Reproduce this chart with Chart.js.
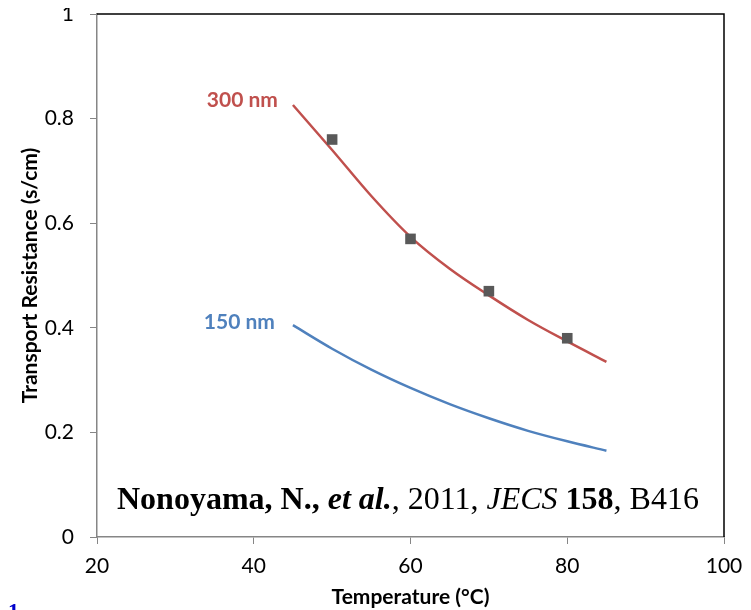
<!DOCTYPE html>
<html>
<head>
<meta charset="utf-8">
<script src="https://cdn.jsdelivr.net/npm/chart.js@4.4.1/dist/chart.umd.min.js"></script>
<style>
  html, body { margin: 0; padding: 0; background: #fff; }
  canvas { display: block; }
</style>
</head>
<body>
<canvas id="chart" width="751" height="610"></canvas>
<script>
// fitted curves
const curveTemps = [45, 50, 55, 60, 65, 70, 75, 80, 85];
const res300 = [0.826, 0.740, 0.652, 0.574, 0.513, 0.462, 0.415, 0.374, 0.335];
const res150 = [0.405, 0.360, 0.320, 0.285, 0.254, 0.227, 0.203, 0.183, 0.165];

// measured points
const measTemps = [50, 60, 70, 80];
const measRes = [0.76, 0.57, 0.47, 0.38];

const xTicks = [20, 40, 60, 80, 100];
const yTicks = [0, 0.2, 0.4, 0.6, 0.8, 1];

const seriesLabels = ['300 nm', '150 nm'];
const citation = [
  { t: 'Nonoyama, N., ', f: 'bold' },
  { t: 'et al.', f: 'italic bold' },
  { t: ', 2011, ', f: '' },
  { t: 'JECS', f: 'italic' },
  { t: ' ', f: '' },
  { t: '158', f: 'bold' },
  { t: ', B416', f: '' }
];

const RED = '#C0504D';
const BLUE = '#4F81BD';
const AXIS = '#868686';

function pts(xs, ys) {
  return xs.map((x, i) => ({ x: x, y: ys[i] }));
}

const overlay = {
  id: 'overlay',
  afterDraw(chart) {
    const ctx = chart.ctx;
    const ca = chart.chartArea;
    const xs = chart.scales.x;
    const ys = chart.scales.y;
    ctx.save();

    // black frame of the text box (top + right)
    ctx.strokeStyle = '#000';
    ctx.lineWidth = 1.5;
    ctx.beginPath();
    ctx.moveTo(ca.left, ca.top);
    ctx.lineTo(ca.right, ca.top);
    ctx.lineTo(ca.right, ca.bottom);
    ctx.stroke();

    // series labels
    ctx.font = 'bold 21px Lato';
    ctx.textAlign = 'right';
    ctx.textBaseline = 'middle';
    ctx.fillStyle = RED;
    ctx.fillText(seriesLabels[0], xs.getPixelForValue(curveTemps[0]) - 15, ys.getPixelForValue(res300[0]) - 5);
    ctx.fillStyle = BLUE;
    ctx.fillText(seriesLabels[1], xs.getPixelForValue(curveTemps[0]) - 18, ys.getPixelForValue(res150[0]) - 3);

    // citation
    ctx.textAlign = 'left';
    ctx.textBaseline = 'alphabetic';
    ctx.fillStyle = '#000';
    let cx = ca.left + 20;
    const cy = ca.bottom - 28;
    citation.forEach(seg => {
      ctx.font = (seg.f ? seg.f + ' ' : '') + '32px "Liberation Serif"';
      ctx.fillText(seg.t, cx, cy);
      cx += ctx.measureText(seg.t).width;
    });

    // stray slide number at bottom left
    ctx.font = 'bold 22px "Liberation Serif"';
    ctx.fillStyle = '#0000CC';
    ctx.fillText('1', 8, 618);

    // top of the "1" tick label is cropped in the source
    ctx.fillStyle = '#fff';
    ctx.fillRect(0, 0, 88, 8);
    ctx.restore();
  }
};

new Chart(document.getElementById('chart'), {
  type: 'scatter',
  data: {
    datasets: [
      {
        label: 'measured',
        data: pts(measTemps, measRes),
        pointStyle: 'rect',
        pointRadius: 7.5,
        pointBackgroundColor: '#595959',
        pointBorderColor: '#595959',
        pointBorderWidth: 0,
        showLine: false,
        order: 0
      },
      {
        label: seriesLabels[0],
        data: pts(curveTemps, res300),
        showLine: true,
        borderColor: RED,
        borderWidth: 2.5,
        pointRadius: 0,
        cubicInterpolationMode: 'monotone',
        order: 1
      },
      {
        label: seriesLabels[1],
        data: pts(curveTemps, res150),
        showLine: true,
        borderColor: BLUE,
        borderWidth: 2.5,
        pointRadius: 0,
        cubicInterpolationMode: 'monotone',
        order: 1
      }
    ]
  },
  options: {
    responsive: false,
    animation: false,
    devicePixelRatio: 1,
    layout: { padding: { top: 14, right: 27, left: 0, bottom: 0 } },
    plugins: {
      legend: { display: false },
      tooltip: { enabled: false }
    },
    scales: {
      x: {
        type: 'linear',
        min: 20,
        max: 100,
        afterFit(scale) { scale.height = 73; scale.paddingRight = 0; },
        afterBuildTicks(scale) { scale.ticks = xTicks.map(v => ({ value: v })); },
        grid: { display: true, drawOnChartArea: false, drawTicks: true, tickLength: 7, color: AXIS },
        border: { display: true, color: AXIS, width: 1.5 },
        ticks: { color: '#000', padding: 10, font: { family: 'Lato', size: 21 } },
        title: {
          display: true,
          text: 'Temperature (°C)',
          color: '#000',
          font: { family: 'Lato', size: 21, weight: 'bold', lineHeight: 1.2 },
          padding: { top: 0, bottom: 0 }
        }
      },
      y: {
        type: 'linear',
        min: 0,
        max: 1,
        afterFit(scale) { scale.width = 97; scale.paddingTop = 0; scale.paddingBottom = 0; },
        afterBuildTicks(scale) { scale.ticks = yTicks.map(v => ({ value: v })); },
        grid: { display: true, drawOnChartArea: false, drawTicks: true, tickLength: 7, color: AXIS },
        border: { display: true, color: AXIS, width: 1.5 },
        ticks: {
          color: '#000',
          padding: 16,
          font: { family: 'Lato', size: 21 },
          callback: v => String(Math.round(v * 10) / 10)
        },
        title: {
          display: true,
          text: 'Transport Resistance (s/cm)',
          color: '#000',
          font: { family: 'Lato', size: 21, weight: 'bold', lineHeight: 1.2 },
          padding: { top: 18, bottom: 0 }
        }
      }
    }
  },
  plugins: [overlay]
});
</script>
</body>
</html>
